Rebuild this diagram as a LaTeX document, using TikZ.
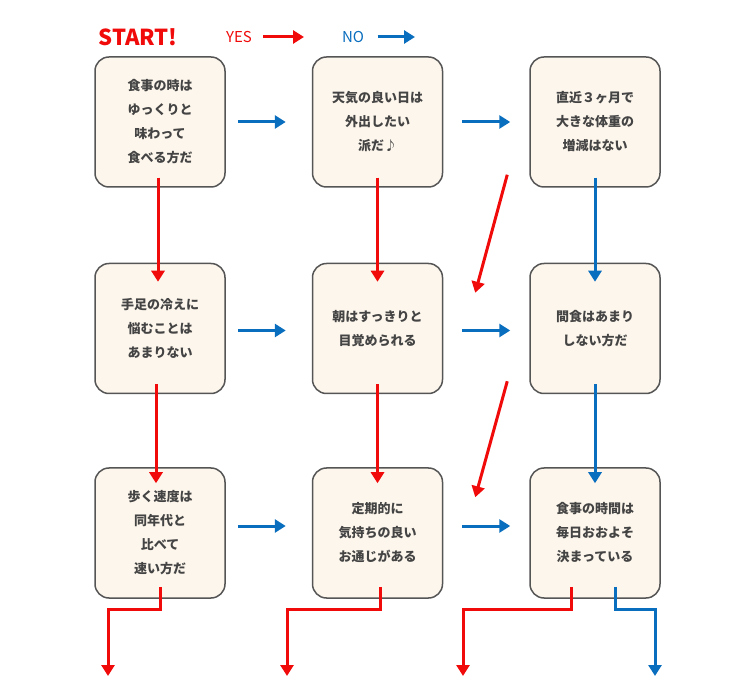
\documentclass[tikz,border=0pt]{standalone}
\usepackage{fontspec}
\setmainfont{Noto Sans CJK JP}
\usetikzlibrary{arrows.meta,positioning}
\definecolor{yescol}{HTML}{F00A0A}
\definecolor{nocol}{HTML}{0A6EBE}
\definecolor{boxfill}{HTML}{FDF6EC}
\definecolor{boxline}{HTML}{555555}
\definecolor{txt}{HTML}{444444}
\tikzset{
  q/.style={draw=boxline,line width=1.5pt,fill=boxfill,rounded corners=14pt,
    minimum width=130pt,minimum height=130pt,align=center,text=txt,
    font=\bfseries\fontsize{13}{24}\selectfont},
  yes/.style={draw=yescol,line width=3pt,-{Triangle[length=11pt,width=13pt]}},
  no/.style={draw=nocol,line width=3pt,-{Triangle[length=11pt,width=13pt]}}
}
\begin{document}
\begin{tikzpicture}[x=1pt,y=-1pt,node distance=86pt and 75pt]
  \useasboundingbox (0,0) rectangle (750,700);
  \begin{scope}[every node/.style={q}]
    \node (a) at (160,122) {食事の時は\\ゆっくりと\\味わって\\食べる方だ};
    \node (b) [right=86pt of a] {天気の良い日は\\外出したい\\派だ♪};
    \node (c) [right=86pt of b] {直近３ヶ月で\\大きな体重の\\増減はない};
    \node (d) [below=75pt of a] {手足の冷えに\\悩むことは\\あまりない};
    \node (e) [right=86pt of d] {朝はすっきりと\\目覚められる};
    \node (f) [right=86pt of e] {間食はあまり\\しない方だ};
    \node (g) [below=73pt of d] {歩く速度は\\同年代と\\比べて\\速い方だ};
    \node (h) [right=86pt of g] {定期的に\\気持ちの良い\\お通じがある};
    \node (i) [right=86pt of h] {食事の時間は\\毎日おおよそ\\決まっている};
  \end{scope}
  % header
  \node (start) [text=yescol,font=\bfseries\fontsize{22}{22}\selectfont] at (138,37) {START!};
  \node (yeslbl) [text=yescol,font=\fontsize{15}{15}\selectfont] at (239,37) {YES};
  \coordinate (yesend) at (304,37);
  \draw[yes] ([xshift=8pt]yeslbl.east) -- (yesend);
  \node (nolbl) [text=nocol,font=\fontsize{15}{15}\selectfont] at (353,37) {NO};
  \coordinate (noend) at (415,37);
  \draw[no] ([xshift=10pt]nolbl.east) -- (noend);
  % no arrows
  \draw[no] ([xshift=12pt]a.east) -- ([xshift=-26pt]b.west);
  \draw[no] ([xshift=19pt]b.east) -- ([xshift=-19pt]c.west);
  \draw[no] ([xshift=12pt,yshift=-2pt]d.east) -- ([xshift=-26pt,yshift=-2pt]e.west);
  \draw[no] ([xshift=19pt,yshift=-2pt]e.east) -- ([xshift=-19pt,yshift=-2pt]f.west);
  \draw[no] ([xshift=12pt,yshift=7pt]g.east) -- ([xshift=-26pt,yshift=7pt]h.west);
  \draw[no] ([xshift=19pt,yshift=7pt]h.east) -- ([xshift=-19pt,yshift=7pt]i.west);
  \draw[no] ([yshift=10pt]c.south) -- ([yshift=-19pt]f.north);
  \draw[no] ([yshift=10pt]f.south) -- ([yshift=-16pt]i.north);
  % yes arrows
  \draw[yes] ([xshift=-2pt,yshift=10pt]a.south) -- ([xshift=-2pt,yshift=-19pt]d.north);
  \draw[yes] ([yshift=10pt]b.south) -- ([yshift=-19pt]e.north);
  \draw[yes] ([xshift=-4pt,yshift=10pt]d.south) -- ([xshift=-4pt,yshift=-16pt]g.north);
  \draw[yes] ([yshift=10pt]e.south) -- ([yshift=-16pt]h.north);
  \draw[yes] ([xshift=-22pt,yshift=13pt]c.south west) -- ([xshift=32pt,yshift=-30pt]e.north east);
  \draw[yes] ([xshift=-22pt,yshift=13pt]f.south west) -- ([xshift=32pt,yshift=-30pt]h.north east);
  % exits
  \coordinate (out1) at (108,676);
  \coordinate (out2) at (287,676);
  \coordinate (out3) at (463,676);
  \coordinate (out4) at (655,676);
  \draw[yes] ([yshift=12pt]g.south) |- ++(0,23) -| (out1);
  \draw[yes] ([xshift=3pt,yshift=12pt]h.south) |- ++(0,23) -| (out2);
  \draw[yes] ([xshift=-24pt,yshift=12pt]i.south) |- ++(0,23) -| (out3);
  \draw[no] ([xshift=20pt,yshift=12pt]i.south) |- ++(0,23) -| (out4);
\end{tikzpicture}
\end{document}
